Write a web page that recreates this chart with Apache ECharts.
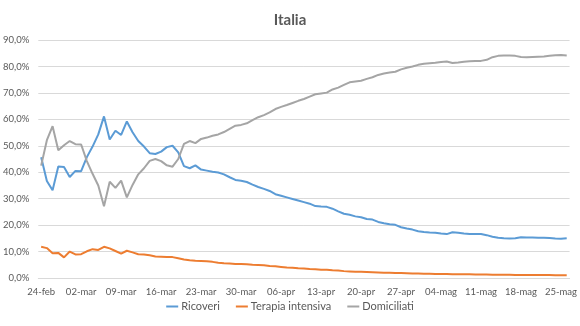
<!DOCTYPE html>
<html>
<head>
<meta charset="utf-8">
<script src="https://cdn.jsdelivr.net/npm/echarts@6/dist/echarts.min.js"></script>
<style>
  html, body { margin: 0; padding: 0; background: #ffffff; }
  #chart { width: 580px; height: 326px; }
</style>
</head>
<body>
<div id="chart"></div>
<script>
// Daily categories: 24 Feb to 26 May 2020 (Italian month abbreviations)
const monthNames = ['gen', 'feb', 'mar', 'apr', 'mag', 'giu'];
const categories = [];
(function () {
  const d = new Date(2020, 1, 24);
  const end = new Date(2020, 4, 26);
  while (d <= end) {
    const dd = String(d.getDate()).padStart(2, '0');
    categories.push(dd + '-' + monthNames[d.getMonth()]);
    d.setDate(d.getDate() + 1);
  }
})();

// Share of currently positive cases (%)
const ricoveri = [
  45.7, 36.7, 33.2, 42.2, 42.0, 38.2, 40.5, 40.4, 45.7, 49.7,
  54.3, 61.1, 52.4, 55.7, 54.1, 59.2, 55.1, 51.8, 49.7, 47.2,
  46.9, 47.8, 49.5, 50.0, 47.5, 42.3, 41.5, 42.6, 41.0, 40.6,
  40.2, 39.9, 39.2, 38.1, 37.1, 36.8, 36.3, 35.3, 34.4, 33.7,
  32.9, 31.7, 31.1, 30.5, 29.9, 29.3, 28.7, 28.1, 27.2, 27.0,
  26.9, 26.2, 25.2, 24.3, 23.9, 23.3, 23.0, 22.3, 22.1, 21.2,
  20.7, 20.3, 20.1, 19.2, 18.7, 18.3, 17.7, 17.4, 17.2, 17.1,
  16.8, 16.6, 17.3, 17.1, 16.8, 16.6, 16.6, 16.6, 16.2, 15.6,
  15.2, 15.0, 14.9, 15.0, 15.4, 15.3, 15.3, 15.2, 15.2, 15.1,
  14.9, 14.8, 15.0
];
const terapiaIntensiva = [
  11.8, 11.3, 9.4, 9.5, 7.8, 10.0, 8.9, 9.0, 10.1, 10.9,
  10.6, 11.8, 11.2, 10.2, 9.2, 10.3, 9.7, 9.0, 8.9, 8.6,
  8.1, 8.0, 7.9, 7.9, 7.5, 7.0, 6.7, 6.5, 6.4, 6.3,
  6.1, 5.8, 5.6, 5.5, 5.3, 5.3, 5.2, 5.0, 4.9, 4.8,
  4.5, 4.4, 4.2, 4.0, 3.9, 3.7, 3.6, 3.4, 3.3, 3.1,
  3.1, 2.9, 2.8, 2.6, 2.5, 2.4, 2.4, 2.3, 2.2, 2.1,
  2.0, 2.0, 1.9, 1.85, 1.8, 1.7, 1.7, 1.6, 1.6, 1.5,
  1.5, 1.5, 1.4, 1.4, 1.4, 1.4, 1.3, 1.3, 1.3, 1.2,
  1.2, 1.2, 1.2, 1.1, 1.1, 1.1, 1.1, 1.1, 1.1, 1.1,
  1.0, 1.0, 1.0
];
const domiciliati = [
  42.5, 52.1, 57.4, 48.3, 50.2, 51.8, 50.6, 50.5, 44.2, 39.4,
  35.0, 27.1, 36.4, 34.1, 36.8, 30.5, 35.2, 39.2, 41.5, 44.3,
  45.0, 44.2, 42.6, 42.1, 45.0, 50.7, 51.8, 51.0, 52.6, 53.1,
  53.8, 54.3, 55.2, 56.4, 57.6, 57.9, 58.5, 59.7, 60.8, 61.6,
  62.6, 63.9, 64.7, 65.4, 66.2, 67.0, 67.7, 68.6, 69.5, 69.8,
  70.1, 71.3, 72.0, 73.0, 74.0, 74.3, 74.6, 75.3, 75.9, 76.8,
  77.3, 77.7, 78.0, 78.9, 79.5, 80.0, 80.6, 81.0, 81.2, 81.4,
  81.7, 81.9, 81.3, 81.5, 81.8, 82.0, 82.1, 82.1, 82.5, 83.5,
  84.0, 84.1, 84.1, 84.0, 83.6, 83.5, 83.6, 83.7, 83.8, 84.0,
  84.2, 84.3, 84.1
];

const FONT = 'Lato, "Open Sans", sans-serif';
const TEXT = '#595959';
const GRID = '#D9D9D9';

function pct(v) {
  return v.toFixed(1).replace('.', ',') + '%';
}

const chart = echarts.init(document.getElementById('chart'), null, { renderer: 'canvas' });

function lineSeries(name, data, color) {
  return {
    name: name,
    type: 'line',
    data: data,
    showSymbol: false,
    symbol: 'none',
    smooth: false,
    lineStyle: { color: color, width: 2 },
    itemStyle: { color: color },
    emphasis: { disabled: true }
  };
}

chart.setOption({
  animation: false,
  backgroundColor: '#ffffff',
  textStyle: { fontFamily: FONT },
  title: {
    text: 'Italia',
    left: 'center',
    top: 8,
    textStyle: { fontFamily: FONT, fontSize: 15, fontWeight: 'bold', color: TEXT }
  },
  legend: {
    bottom: 9,
    left: 'center',
    icon: 'rect',
    itemWidth: 12,
    itemHeight: 2,
    itemGap: 16,
    textStyle: { fontFamily: FONT, fontSize: 11, color: TEXT, padding: [0, 0, 0, -2] },
    data: ['Ricoveri', 'Terapia intensiva', 'Domiciliati']
  },
  grid: { left: 38, right: 8, top: 40, bottom: 48, containLabel: false },
  xAxis: {
    type: 'category',
    data: categories,
    boundaryGap: true,
    axisLine: { show: true, lineStyle: { color: GRID, width: 1 } },
    axisTick: { show: false },
    axisLabel: {
      interval: 6,
      color: TEXT,
      fontFamily: FONT,
      fontSize: 9.5,
      margin: 9
    },
    splitLine: { show: false }
  },
  yAxis: {
    type: 'value',
    min: 0,
    max: 90,
    interval: 10,
    axisLine: { show: false },
    axisTick: { show: false },
    axisLabel: {
      color: TEXT,
      fontFamily: FONT,
      fontSize: 9.5,
      margin: 9,
      formatter: pct
    },
    splitLine: { lineStyle: { color: GRID, width: 1 } }
  },
  series: [
    lineSeries('Ricoveri', ricoveri, '#5B9BD5'),
    lineSeries('Terapia intensiva', terapiaIntensiva, '#ED7D31'),
    lineSeries('Domiciliati', domiciliati, '#A5A5A5')
  ]
});
</script>
</body>
</html>
